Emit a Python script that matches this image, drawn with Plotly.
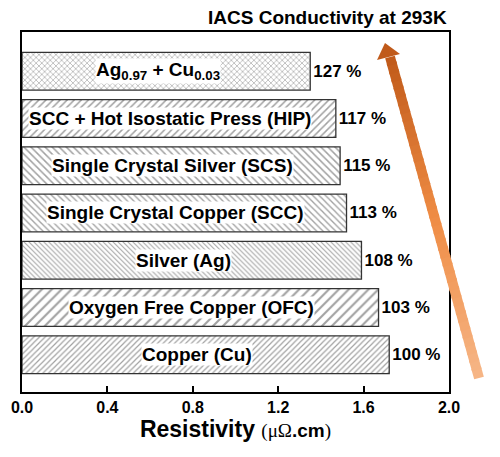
import plotly.graph_objects as go

# bottom to top
materials = ["Copper (Cu)", "Oxygen Free Copper (OFC)", "Silver (Ag)",
             "Single Crystal Copper (SCC)", "Single Crystal Silver (SCS)",
             "SCC + Hot Isostatic Press (HIP)", "Ag<sub>0.97</sub> + Cu<sub>0.03</sub>"]
resistivity = [1.72, 1.67, 1.59, 1.52, 1.49, 1.47, 1.35]
iacs = [100, 103, 108, 113, 115, 117, 127]
patterns = ["/", "/", "\\", "\\", "\\", "/", "x"]
pattern_sizes = [4, 7, 3.5, 4.5, 5, 5, 4]

FONT = "Arial, Liberation Sans, sans-serif"
# page body has an 8px margin, so the figure is a bit smaller than the window
W, H = 492, 449
ml, mr, mt, mb = 14, 51, 24, 65

fig = go.Figure()
fig.add_trace(go.Bar(
    x=resistivity, y=list(range(len(materials))), orientation="h",
    width=0.8,
    marker=dict(color="white", line=dict(color="#333333", width=1.3),
                pattern=dict(shape=patterns, size=pattern_sizes, solidity=0.3,
                             fgcolor="#444444", bgcolor="white")),
    text=[f"{v} %" for v in iacs], textposition="outside",
    textfont=dict(family=FONT, size=17, color="black", weight="bold"),
    cliponaxis=False, showlegend=False,
))

for i, (name, r) in enumerate(zip(materials, resistivity)):
    fig.add_annotation(x=r / 2 - 0.04, y=i, text="<b>%s</b>" % name, showarrow=False,
                       bgcolor="white", borderpad=0,
                       font=dict(family=FONT, size=19, color="black"))

# gradient arrow (window pixels -> paper)
def px2paper(px, py):
    px, py = px - 8, py - 8
    return (px - ml) / (W - ml - mr), (H - mb - py) / (H - mt - mb)

start, head_base, tip = (479, 378), (390, 57), (385, 43)
stops = [(0.0, (246, 182, 135)), (0.5, (239, 140, 68)), (1.0, (192, 90, 26))]

def grad(t):
    for (t0, c0), (t1, c1) in zip(stops[:-1], stops[1:]):
        if t <= t1:
            f = (t - t0) / (t1 - t0)
            return "rgb(%d,%d,%d)" % tuple(round(a + (b - a) * f) for a, b in zip(c0, c1))
    return "rgb(%d,%d,%d)" % stops[-1][1]

n = 40
for k in range(n):
    t0, t1 = k / n, min((k + 1.3) / n, 1.0)
    xa = start[0] + (head_base[0] - start[0]) * t0
    ya = start[1] + (head_base[1] - start[1]) * t0
    xb = start[0] + (head_base[0] - start[0]) * t1
    yb = start[1] + (head_base[1] - start[1]) * t1
    (x0, y0), (x1, y1) = px2paper(xa, ya), px2paper(xb, yb)
    fig.add_shape(type="line", xref="paper", yref="paper", x0=x0, y0=y0, x1=x1, y1=y1,
                  line=dict(color=grad((k + 0.5) / n), width=10), layer="above")

hl = px2paper(377, 60)
hr = px2paper(400, 54)
tp = px2paper(*tip)
fig.add_shape(type="path", xref="paper", yref="paper",
              path=f"M {hl[0]},{hl[1]} L {tp[0]},{tp[1]} L {hr[0]},{hr[1]} Z",
              fillcolor="rgb(192,90,26)", line=dict(width=0), layer="above")

fig.add_annotation(xref="paper", yref="paper", x=1.0, y=1.0, yanchor="bottom", xanchor="right",
                   yshift=2, showarrow=False, text="<b>IACS Conductivity at 293K</b>",
                   font=dict(family=FONT, size=19, color="black"))

fig.update_layout(
    width=W, height=H, margin=dict(l=ml, r=mr, t=mt, b=mb),
    paper_bgcolor="white", plot_bgcolor="white",
    font=dict(family=FONT, color="black"),
    xaxis=dict(range=[0, 2.0], dtick=0.4, tick0=0, tickformat=".1f", automargin=False,
               ticks="inside", ticklen=6, tickwidth=1.5, tickcolor="black",
               showline=True, linecolor="black", linewidth=2, mirror=True,
               showgrid=False, zeroline=False,
               tickfont=dict(family=FONT, size=16, weight="bold"),
               title=dict(text="<b>Resistivity</b> <span style='font-family:Liberation Serif;font-size:19px'>(μΩ</span><b><span style='font-size:19px'>.cm</span></b><span style='font-family:Liberation Serif;font-size:19px'>)</span>",
                          font=dict(family=FONT, size=23), standoff=6)),
    yaxis=dict(range=[-0.79, 6.83], showticklabels=False, showgrid=False, zeroline=False,
               automargin=False,
               showline=True, linecolor="black", linewidth=2, mirror=True, ticks=""),
)

fig.write_html("out.html")
